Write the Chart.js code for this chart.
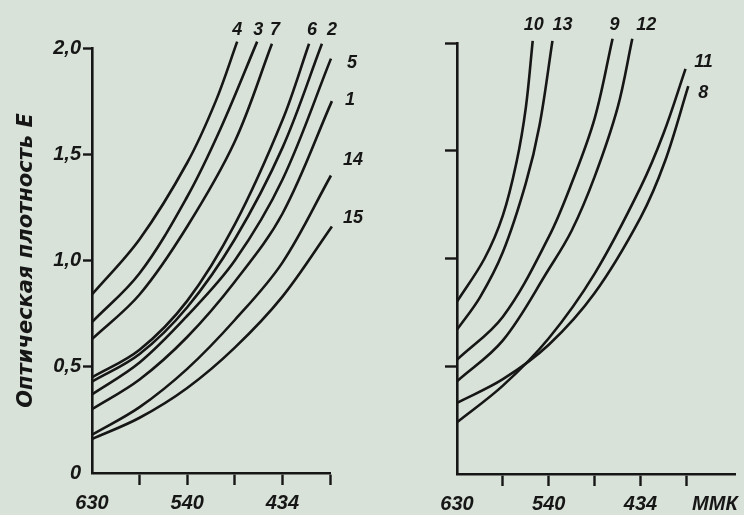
<!DOCTYPE html>
<html>
<head>
<meta charset="utf-8">
<script src="https://cdn.jsdelivr.net/npm/chart.js@4.4.1/dist/chart.umd.min.js"></script>
<style>
  html, body { margin: 0; padding: 0; background: #d8e2d8; }
  #wrap { position: relative; width: 744px; height: 515px; overflow: hidden; }
  canvas { position: absolute; top: 0; }
  #left { left: 0; }
  #right { left: 372px; }
</style>
</head>
<body>
<div id="wrap">
  <canvas id="left" width="372" height="515"></canvas>
  <canvas id="right" width="372" height="515"></canvas>
</div>
<script>
// x is the tick index along the wavelength axis (630 ... 434 ммк), y is optical density E
const xTickVals = [0, 1, 2, 3, 4, 5];
const xTickLabels = ['630', '', '540', '', '434', ''];
const unitLabel = 'ММК';
const unitTick = 5.62;
const yTickVals = [0, 0.5, 1, 1.5, 2];
const yTickLabels = ['0', '0,5', '1,0', '1,5', '2,0'];
const yTitle = 'Оптическая плотность E';

// left panel curves [x index, E]
const curve4  = [[0, 0.84], [1, 1.10], [2, 1.46], [2.6, 1.75], [3.05, 2.03]];
const curve3  = [[0, 0.71], [1, 0.94], [2, 1.30], [2.7, 1.62], [3.47, 2.03]];
const curve7  = [[0, 0.63], [1, 0.84], [2, 1.16], [3, 1.56], [3.78, 2.02]];
const curve6  = [[0, 0.45], [1, 0.58], [2, 0.81], [3, 1.17], [4, 1.66], [4.56, 2.02]];
const curve2  = [[0, 0.43], [1, 0.56], [2, 0.78], [3, 1.10], [4, 1.53], [4.83, 2.02]];
const curve5  = [[0, 0.37], [1, 0.52], [2, 0.74], [3, 1.00], [4, 1.38], [5.02, 1.95]];
const curve1  = [[0, 0.30], [1, 0.44], [2, 0.64], [3, 0.90], [4, 1.22], [5.04, 1.75]];
const curve14 = [[0, 0.18], [1, 0.31], [2, 0.49], [3, 0.72], [4, 0.99], [5.02, 1.40]];
const curve15 = [[0, 0.16], [1, 0.26], [2, 0.40], [3, 0.59], [4, 0.83], [5.04, 1.16]];

// right panel curves
const curve10 = [[0, 0.80], [0.6, 1.00], [1, 1.20], [1.3, 1.45], [1.5, 1.70], [1.65, 2.01]];
const curve13 = [[0, 0.67], [0.5, 0.82], [1, 1.03], [1.5, 1.35], [1.8, 1.62], [2.08, 2.01]];
const curve9  = [[0, 0.53], [1, 0.73], [2, 1.10], [2.5, 1.35], [3, 1.65], [3.39, 2.02]];
const curve12 = [[0, 0.43], [1, 0.62], [2, 0.95], [2.5, 1.13], [3, 1.38], [3.5, 1.70], [3.82, 2.02]];
const curve11 = [[0, 0.24], [1, 0.41], [2, 0.63], [3, 0.93], [4, 1.33], [4.5, 1.58], [4.98, 1.88]];
const curve8  = [[0, 0.33], [1, 0.44], [2, 0.60], [3, 0.84], [4, 1.19], [4.53, 1.45], [5.04, 1.80]];

const leftSeries = [['4', curve4], ['3', curve3], ['7', curve7], ['6', curve6], ['2', curve2],
                    ['5', curve5], ['1', curve1], ['14', curve14], ['15', curve15]];
const rightSeries = [['10', curve10], ['13', curve13], ['9', curve9], ['12', curve12],
                     ['11', curve11], ['8', curve8]];

const INK = '#161616';
const SANS = '"Liberation Sans", Arial, sans-serif';
const HIDE = 'rgba(0,0,0,0)';

// curve numbers drawn next to the end of each line
const curveLabelPlugin = {
  id: 'curveLabels',
  afterDatasetsDraw(chart, args, opts) {
    const ctx = chart.ctx;
    ctx.save();
    ctx.font = 'italic bold 18px ' + SANS;
    ctx.fillStyle = INK;
    ctx.textAlign = 'center';
    ctx.textBaseline = 'middle';
    chart.data.datasets.forEach((ds, i) => {
      const pts = chart.getDatasetMeta(i).data;
      const end = pts[pts.length - 1];
      const off = opts.offsets[ds.label] || [0, -14];
      ctx.fillText(ds.label, end.x + off[0], end.y + off[1]);
    });
    ctx.restore();
  }
};

function buildChart(id, series, cfg) {
  return new Chart(document.getElementById(id), {
    type: 'line',
    data: {
      datasets: series.map(([label, pts]) => ({
        label,
        data: pts.map(p => ({ x: p[0], y: p[1] })),
        borderColor: INK,
        borderWidth: 2.6,
        pointRadius: 0,
        tension: 0.35,
        fill: false,
        clip: false
      }))
    },
    options: {
      responsive: false,
      animation: false,
      events: [],
      layout: { padding: cfg.padding },
      plugins: {
        legend: { display: false },
        tooltip: { enabled: false },
        curveLabels: { offsets: cfg.offsets }
      },
      scales: {
        x: {
          type: 'linear',
          min: 0,
          max: cfg.xMax,
          afterBuildTicks: s => { s.ticks = cfg.xVals.map(v => ({ value: v })); },
          afterFit: s => { s.height = cfg.xHeight; },
          border: { color: INK, width: 2.6 },
          grid: {
            drawOnChartArea: false,
            tickLength: 12,
            tickWidth: 2.4,
            color: c => (c.tick && c.tick.value > 0 && c.tick.value <= 5) ? INK : HIDE
          },
          ticks: {
            callback: (v, i) => cfg.xLabels[i],
            font: { family: SANS, size: 20, weight: 'bold', style: 'italic' },
            color: INK,
            padding: 6,
            maxRotation: 0,
            autoSkip: false
          }
        },
        y: {
          type: 'linear',
          min: 0,
          max: 2,
          afterBuildTicks: s => { s.ticks = yTickVals.map(v => ({ value: v })); },
          afterFit: s => { s.width = cfg.yWidth; },
          border: { color: INK, width: 2.6 },
          grid: {
            drawOnChartArea: false,
            tickLength: cfg.yTickLen,
            tickWidth: 2.4,
            color: c => (c.tick && c.tick.value > 0) ? INK : HIDE
          },
          ticks: {
            callback: (v, i) => cfg.showY ? yTickLabels[i] : '',
            font: { family: SANS, size: 20, weight: 'bold', style: 'italic' },
            color: INK,
            padding: 2
          },
          title: {
            display: cfg.showY,
            text: yTitle,
            color: INK,
            font: { family: '"DejaVu Sans", sans-serif', size: 21, weight: 'bold', style: 'italic' },
            padding: { top: 0, bottom: 0 }
          }
        }
      }
    },
    plugins: [curveLabelPlugin]
  });
}

buildChart('left', leftSeries, {
  padding: { left: 14, top: 48, right: 42, bottom: 0 },
  xMax: 5,
  xVals: xTickVals,
  xLabels: xTickLabels,
  xHeight: 42,
  yWidth: 78,
  yTickLen: 9,
  showY: true,
  offsets: {
    '4': [0, -12], '3': [1, -12], '7': [3, -14], '6': [3, -14], '2': [10, -14],
    '5': [21, 4], '1': [18, -1], '14': [22, -15], '15': [21, -8]
  }
});

buildChart('right', rightSeries, {
  padding: { left: 0, top: 43, right: 4, bottom: 0 },
  xMax: 6.07,
  xVals: xTickVals.concat([unitTick]),
  xLabels: xTickLabels.concat([unitLabel]),
  xHeight: 41,
  yWidth: 85,
  yTickLen: 12,
  showY: false,
  offsets: {
    '10': [1, -16], '13': [10, -16], '9': [2, -14], '12': [14, -14],
    '11': [18, -7], '8': [15, 7]
  }
});
</script>
</body>
</html>
